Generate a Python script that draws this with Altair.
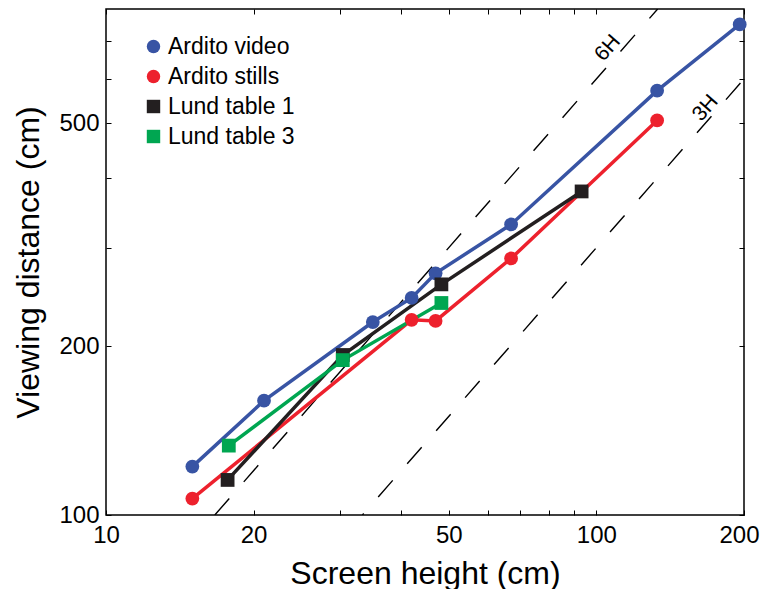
import altair as alt
import pandas as pd

FONT = "Liberation Sans"

series_names = ["Ardito video", "Ardito stills", "Lund table 1", "Lund table 3"]
series_colors = ["#3854A4", "#ED212D", "#231F20", "#00A651"]
series_shapes = ["circle", "circle", "square", "square"]

video_x = [15, 21, 35, 42, 47, 67, 133, 196]
video_y = [122, 160, 221, 244, 270, 330, 572, 751]
stills_x = [15, 42, 47, 67, 133]
stills_y = [107, 223, 222, 287, 506]
lund1_x = [17.7, 30.4, 48.3, 93.3]
lund1_y = [115.5, 193, 258, 378]
lund3_x = [17.8, 30.4, 48.3]
lund3_y = [133, 189, 239]

x_domain = [10, 200]
y_domain = [100, 800]
x_ticks = [10, 20, 30, 40, 50, 60, 70, 80, 90, 100, 200]
x_labeled = [10, 20, 50, 100, 200]
y_ticks = [100, 200, 300, 400, 500, 600, 700]
y_labeled = [100, 200, 500]

ratios = [6, 3]
ratio_labels = ["6H", "3H"]
ratio_dash_offsets = [0, 20]
label_x = [105.5, 167]
label_y = [681, 532]

rows = []
for name, xs_, ys_ in [
    (series_names[0], video_x, video_y),
    (series_names[1], stills_x, stills_y),
    (series_names[2], lund1_x, lund1_y),
    (series_names[3], lund3_x, lund3_y),
]:
    for i, (xv, yv) in enumerate(zip(xs_, ys_)):
        rows.append({"series": name, "h": xv, "d": yv, "order": i})
df = pd.DataFrame(rows)

ref_rows = []
for r, lab in zip(ratios, ratio_labels):
    x0 = y_domain[0] / r
    x1 = min(x_domain[1], y_domain[1] / r)
    ref_rows.append({"label": lab, "h": x0, "d": x0 * r})
    ref_rows.append({"label": lab, "h": x1, "d": x1 * r})
ref_df = pd.DataFrame(ref_rows)

lab_df = pd.DataFrame({"label": ratio_labels, "h": label_x, "d": label_y})

xs = alt.Scale(type="log", domain=x_domain, nice=False)
ys = alt.Scale(type="log", domain=y_domain, nice=False)

TICK = 5

x_bottom = alt.Axis(
    values=x_ticks,
    labelExpr="indexof(%s, datum.value) >= 0 ? format(datum.value, 'd') : ''" % str(x_labeled),
    labelOffset={"condition": {"test": "datum.value == 200", "value": -5}, "value": 0},
    tickSize=TICK, offset=-TICK, domain=False, labelPadding=8,
    labelFontSize=24, labelFont=FONT, labelColor="black",
    labelFlush=False, labelOverlap=False,
    title="Screen height (cm)", titleFontSize=32, titleFont=FONT,
    titleFontWeight="normal", titleColor="black", titlePadding=11,
    tickColor="black", grid=False,
)
y_left = alt.Axis(
    values=y_ticks,
    labelExpr="indexof(%s, datum.value) >= 0 ? format(datum.value, 'd') : ''" % str(y_labeled),
    tickSize=TICK, offset=-TICK, domain=False, labelPadding=7,
    labelFontSize=24, labelFont=FONT, labelColor="black",
    labelFlush=False, labelOverlap=False,
    title="Viewing distance (cm)", titleFontSize=32, titleFont=FONT,
    titleFontWeight="normal", titleColor="black", titlePadding=13,
    tickColor="black", grid=False,
)
x_top = alt.Axis(orient="top", values=x_ticks, labels=False, tickSize=TICK,
                 offset=-TICK, domain=False, title=None, tickColor="black",
                 grid=False, minExtent=0, maxExtent=0)
y_right = alt.Axis(orient="right", values=y_ticks, labels=False, tickSize=TICK,
                   offset=-TICK, domain=False, title=None, tickColor="black",
                   grid=False, minExtent=0, maxExtent=0)

ref6 = alt.Chart(ref_df).transform_filter(alt.datum.label == ratio_labels[0]).mark_line(
    clip=True, color="black", strokeWidth=1.4, strokeDash=[22, 22],
    strokeDashOffset=ratio_dash_offsets[0]
).encode(
    x=alt.X("h:Q", scale=xs, axis=x_top),
    y=alt.Y("d:Q", scale=ys, axis=y_right),
)
ref3 = alt.Chart(ref_df).transform_filter(alt.datum.label == ratio_labels[1]).mark_line(
    clip=True, color="black", strokeWidth=1.4, strokeDash=[22, 22],
    strokeDashOffset=ratio_dash_offsets[1]
).encode(
    x=alt.X("h:Q", scale=xs, axis=None),
    y=alt.Y("d:Q", scale=ys, axis=None),
)

labels = alt.Chart(lab_df).mark_text(
    angle=311, fontSize=21, font=FONT, color="black", align="center", baseline="middle"
).encode(
    x=alt.X("h:Q", scale=xs, axis=None),
    y=alt.Y("d:Q", scale=ys, axis=None),
    text="label:N",
)

line_layers = []
for idx, (name, col) in enumerate(zip(series_names, series_colors)):
    line_layers.append(
        alt.Chart(df).transform_filter(alt.datum.series == name).mark_line(
            strokeWidth=3.5, color=col
        ).encode(
            x=alt.X("h:Q", scale=xs, axis=x_bottom if idx == 0 else None),
            y=alt.Y("d:Q", scale=ys, axis=y_left if idx == 0 else None),
            order="order:Q",
        )
    )

legend = alt.Legend(orient="none", legendX=36, legendY=26, title=None)

points = alt.Chart(df).mark_point(filled=True, size=190, opacity=1).encode(
    x=alt.X("h:Q", scale=xs, axis=None),
    y=alt.Y("d:Q", scale=ys, axis=None),
    color=alt.Color("series:N", scale=alt.Scale(domain=series_names, range=series_colors), legend=legend),
    shape=alt.Shape("series:N", scale=alt.Scale(domain=series_names, range=series_shapes), legend=legend),
)

chart = alt.layer(ref6, ref3, labels, *line_layers, points).resolve_axis(
    x="independent", y="independent"
).properties(
    width=638, height=506,
    padding={"left": 4, "top": 0, "right": 0, "bottom": 0},
).configure_view(
    stroke="black", strokeWidth=1.5
).configure_legend(
    labelFontSize=23, labelFont=FONT, labelColor="black",
    symbolSize=180, symbolStrokeWidth=0, labelOffset=3, rowPadding=6, padding=0,
)

chart.save("out.html", embed_options={"renderer": "svg", "actions": False})
